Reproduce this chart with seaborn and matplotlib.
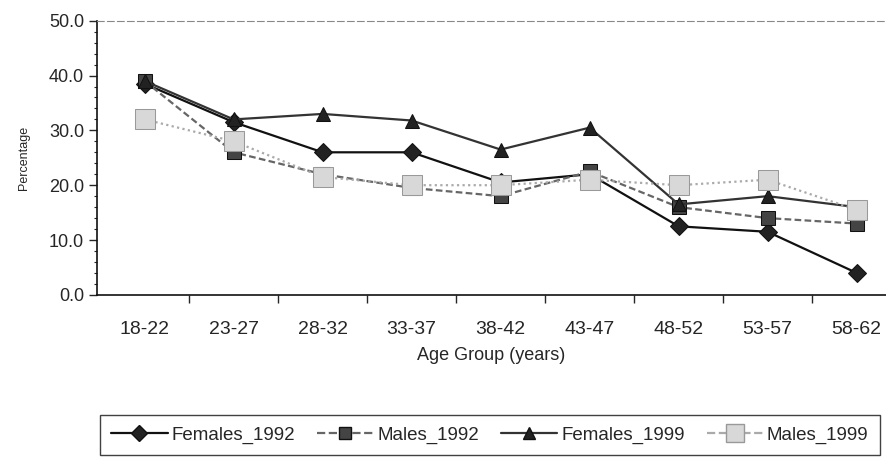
import matplotlib
matplotlib.use("Agg")
import matplotlib.pyplot as plt
from matplotlib.ticker import MultipleLocator
import seaborn as sns
import pandas as pd

# Data
age_groups = ["18-22", "23-27", "28-32", "33-37", "38-42", "43-47", "48-52", "53-57", "58-62"]
females_1992 = [38.5, 31.5, 26.0, 26.0, 20.5, 22.0, 12.5, 11.5, 4.0]
males_1992 = [39.0, 26.0, 22.0, 19.5, 18.0, 22.5, 16.0, 14.0, 13.0]
females_1999 = [39.0, 32.0, 33.0, 31.8, 26.5, 30.5, 16.5, 18.0, 16.0]
males_1999 = [32.0, 28.0, 21.5, 20.0, 20.0, 21.0, 20.0, 21.0, 15.5]

series_names = ["Females_1992", "Males_1992", "Females_1999", "Males_1999"]
series_vals = [females_1992, males_1992, females_1999, males_1999]

rows = []
for name, vals in zip(series_names, series_vals):
    for i, v in enumerate(vals):
        rows.append({"pos": i, "Age": age_groups[i], "Series": name, "Percentage": v})
df = pd.DataFrame(rows)

sns.set_style("white")
plt.rcParams["font.family"] = ["Liberation Sans", "DejaVu Sans"]

fig = plt.figure(figsize=(8.86, 4.71), dpi=100)
ax = fig.add_axes([0.109, 0.374, 0.891, 0.582])

line_colors = {"Females_1992": "#111111", "Males_1992": "#666666",
               "Females_1999": "#333333", "Males_1999": "#aaaaaa"}
dashes = {"Females_1992": "", "Males_1992": (3, 1.5),
          "Females_1999": "", "Males_1999": (1, 1.5)}
markers = {"Females_1992": "D", "Males_1992": "s",
           "Females_1999": "^", "Males_1999": "s"}

sns.lineplot(data=df, x="pos", y="Percentage", hue="Series", style="Series",
             palette=line_colors, dashes=dashes, markers=markers,
             hue_order=series_names, style_order=series_names,
             linewidth=1.6, markersize=9, ax=ax, legend=False)

# marker styling per series
face = {"Females_1992": "#222222", "Males_1992": "#444444",
        "Females_1999": "#222222", "Males_1999": "#d8d8d8"}
sizes = {"Females_1992": 9, "Males_1992": 10, "Females_1999": 10, "Males_1999": 15}
for ln, name in zip(ax.lines, series_names):
    ln.set_markerfacecolor(face[name])
    ln.set_markeredgecolor("#999999" if name == "Males_1999" else "#111111")
    ln.set_markersize(sizes[name])

ax.set_xlim(-0.54, 8.33)
ax.set_ylim(0, 50)
ax.yaxis.set_major_locator(MultipleLocator(10))
ax.yaxis.set_minor_locator(MultipleLocator(2))
ax.set_yticklabels([f"{v:.1f}" for v in ax.get_yticks()])
ax.set_xticks(range(len(age_groups)))
ax.set_xticklabels(age_groups)
ax.set_xticks([i + 0.5 for i in range(len(age_groups) - 1)], minor=True)

ax.tick_params(axis="y", which="major", direction="out", length=6, width=1, labelsize=13, pad=3, left=True)
ax.tick_params(axis="y", which="minor", direction="out", length=2, width=0.8, left=True)
ax.tick_params(axis="x", which="major", length=0, labelsize=14, pad=19)
ax.tick_params(axis="x", which="minor", direction="out", length=6, width=1, bottom=True)

for s in ["left", "bottom"]:
    ax.spines[s].set_color("#111111")
    ax.spines[s].set_linewidth(1.2)
ax.spines["top"].set_color("#888888")
ax.spines["top"].set_linewidth(0.8)
ax.spines["top"].set_linestyle((0, (6, 3)))
ax.spines["right"].set_visible(False)

ax.set_xlabel("Age Group (years)", fontsize=13, labelpad=6)
ax.set_ylabel("Percentage", fontsize=9, labelpad=14)

# legend as a boxed row below the plot
handles = []
for ln, name in zip(ax.lines, series_names):
    h = plt.Line2D([], [], color=ln.get_color(), linestyle=ln.get_linestyle(),
                   linewidth=1.6, marker=ln.get_marker(),
                   markerfacecolor=ln.get_markerfacecolor(),
                   markeredgecolor=ln.get_markeredgecolor(),
                   markersize=ln.get_markersize() * 0.85, label=name)
    handles.append(h)
leg = fig.legend(handles=handles, loc="lower left",
                 bbox_to_anchor=(0.113, 0.034, 0.880, 0.102), mode="expand",
                 ncol=4, frameon=True, fancybox=False, fontsize=13.5,
                 handlelength=3.0, handletextpad=0.2, borderpad=0.6,
                 borderaxespad=0)
leg.get_frame().set_edgecolor("#111111")
leg.get_frame().set_linewidth(1.0)

fig.savefig("out.png", dpi=100)
